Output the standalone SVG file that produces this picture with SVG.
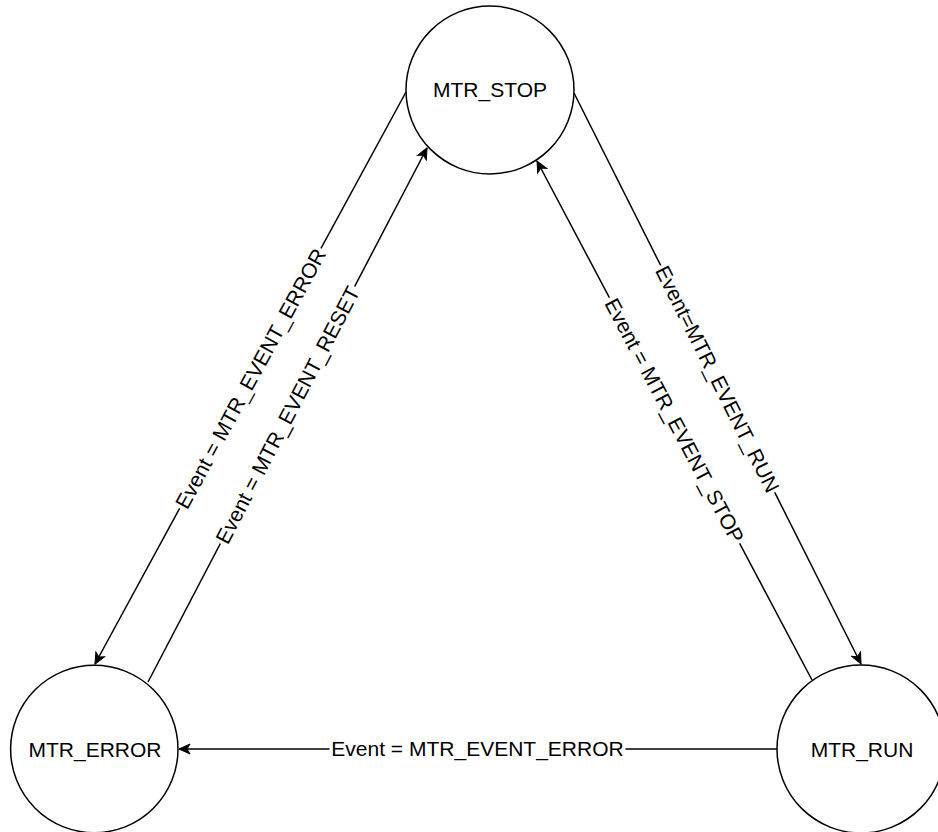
<svg xmlns="http://www.w3.org/2000/svg" width="938" height="832" viewBox="0 0 938 832">
<style>
.node{fill:#fff;stroke:#000;stroke-width:1.5}
.nt{font-family:"Liberation Sans",Arial,sans-serif;font-size:21px;fill:#000;text-anchor:middle}
.edge{fill:none;stroke:#000;stroke-width:1.5;marker-end:url(#arr)}
.lbg{fill:#fff}
.lt{font-family:"Liberation Sans",Arial,sans-serif;font-size:21px;fill:#000;text-anchor:middle}
</style>
<defs>
<marker id="arr" markerUnits="userSpaceOnUse" markerWidth="14" markerHeight="12" viewBox="-12 -6 14 12" refX="0" refY="0" orient="auto">
<path d="M0,0 L-11,-5 L-8,0 L-11,5 Z" fill="#000" stroke="#000" stroke-width="1"/>
</marker>
</defs>
<rect width="938" height="832" fill="#fff"/>
<g id="connectors">
<path class="edge" d="M406,92 L95,664"/>
<path class="edge" d="M148,682 L427,148"/>
<path class="edge" d="M574,93 L861,664"/>
<path class="edge" d="M812,680 L537,161"/>
<path class="edge" d="M777,749 L179,749"/>
<g transform="translate(250.5,378.5) rotate(-61.5)"><rect class="lbg" x="-148" y="-11" width="296" height="22"/><text class="lt" x="0" y="7.4">Event = MTR_EVENT_ERROR</text></g>
<g transform="translate(287.5,415) rotate(-62.4)"><rect class="lbg" x="-145" y="-11" width="290" height="22"/><text class="lt" x="0" y="7.4">Event = MTR_EVENT_RESET</text></g>
<g transform="translate(717.5,379) rotate(63.35)"><rect class="lbg" x="-127" y="-11" width="254" height="22"/><text class="lt" x="0" y="7.4">Event=MTR_EVENT_RUN</text></g>
<g transform="translate(674.5,420.5) rotate(62.1)"><rect class="lbg" x="-139" y="-11" width="278" height="22"/><text class="lt" x="0" y="7.4">Event = MTR_EVENT_STOP</text></g>
<g transform="translate(477.5,749)"><rect class="lbg" x="-148" y="-11" width="296" height="22"/><text class="lt" x="0" y="7.4">Event = MTR_EVENT_ERROR</text></g>
</g>
<g id="MTR_STOP"><circle class="node" cx="490" cy="90" r="84"/><text class="nt" x="490" y="97">MTR_STOP</text></g>
<g id="MTR_ERROR"><circle class="node" cx="94.3" cy="749" r="83.7"/><text class="nt" x="95" y="757">MTR_ERROR</text></g>
<g id="MTR_RUN"><circle class="node" cx="861" cy="749" r="84"/><text class="nt" x="862" y="757">MTR_RUN</text></g>
</svg>
